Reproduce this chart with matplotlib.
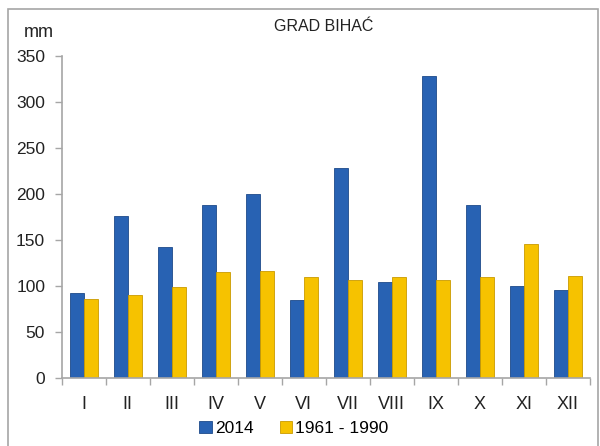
import matplotlib
matplotlib.use("Agg")
from matplotlib import pyplot as plt
from matplotlib.patches import Rectangle
import numpy as np

plt.rcParams['font.family'] = ['Liberation Sans', 'DejaVu Sans']

months = ['I', 'II', 'III', 'IV', 'V', 'VI', 'VII', 'VIII', 'IX', 'X', 'XI', 'XII']
rain_2014 = [93, 176, 143, 188, 200, 85, 228, 105, 329, 188, 100, 96]
rain_1961_1990 = [86, 90, 99, 115, 117, 110, 107, 110, 107, 110, 146, 111]

BLUE = '#2862b3'
YELLOW = '#f6c200'
GREY = '#a6a6a6'

fig = plt.figure(figsize=(6, 4.46), dpi=100)
ax = fig.add_axes([0.103, 0.152, 0.880, 0.722])

x = np.arange(len(months))
w = 0.32
ax.bar(x - w / 2, rain_2014, w, color=BLUE, edgecolor='#1d4a8a', linewidth=0.6, label='2014')
ax.bar(x + w / 2, rain_1961_1990, w, color=YELLOW, edgecolor='#c99a00', linewidth=0.6, label='1961 - 1990')

ax.set_xlim(-0.5, len(months) - 0.5)
ax.set_ylim(0, 350)
ax.set_yticks(range(0, 351, 50))
ax.set_xticks(x)
ax.set_xticklabels(months)
ax.set_xticks(np.arange(-0.5, len(months), 1), minor=True)
ax.tick_params(axis='x', which='major', length=0, pad=13, labelsize=13, colors='#222222')
ax.tick_params(axis='x', which='minor', length=5, color=GREY, width=1)
ax.tick_params(axis='y', length=5, color=GREY, width=1, labelsize=12.5, colors='#222222', pad=7)
for side in ['top', 'right']:
    ax.spines[side].set_visible(False)
for side in ['left', 'bottom']:
    ax.spines[side].set_color(GREY)
    ax.spines[side].set_linewidth(1.2)

fig.text(0.54, 0.94, 'GRAD BIHAĆ', ha='center', va='center', fontsize=11.5, color='#222222')
fig.text(0.065, 0.928, 'mm', ha='center', va='center', fontsize=13, color='#222222')

leg = fig.legend(loc='center', bbox_to_anchor=(0.49, 0.04), ncol=2, frameon=False,
                 fontsize=12.5, handlelength=0.7, handleheight=0.7, handletextpad=0.2,
                 columnspacing=1.5)

# outer frame
fig.patches.append(Rectangle((0.013, -0.01), 0.984, 0.99, transform=fig.transFigure,
                             fill=False, edgecolor=GREY, linewidth=1.2))

fig.savefig('out.png', dpi=100)
